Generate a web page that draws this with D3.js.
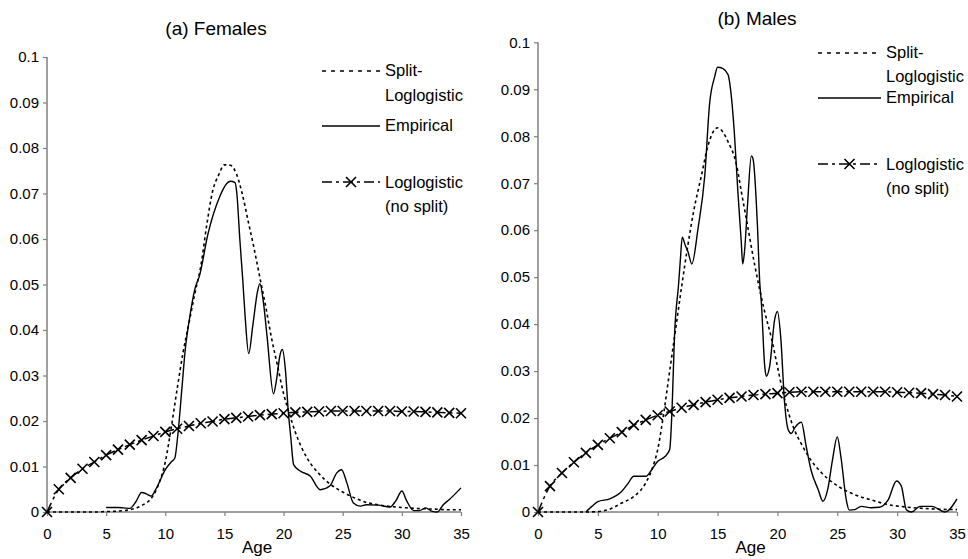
<!DOCTYPE html>
<html>
<head>
<meta charset="utf-8">
<script src="https://cdn.jsdelivr.net/npm/d3@7"></script>
<style>
  html, body { margin: 0; padding: 0; background: #fff; }
  svg { display: block; }
  text { font-family: "Liberation Sans", Arial, sans-serif; fill: #000; }
</style>
</head>
<body>
<svg id="chart" width="968" height="559"></svg>
<script>
// ---------- DATA ----------
const xTicks = [0, 5, 10, 15, 20, 25, 30, 35];
const yTicks = [0, 0.01, 0.02, 0.03, 0.04, 0.05, 0.06, 0.07, 0.08, 0.09, 0.1];
const yTickLabels = ["0", "0.01", "0.02", "0.03", "0.04", "0.05", "0.06", "0.07", "0.08", "0.09", "0.1"];
const legendLabels = [["Split-", "Loglogistic"], ["Empirical"], ["Loglogistic", "(no split)"]];
const panelTitles = ["(a) Females", "(b) Males"];
const xLabel = "Age";

// Females
const femaleSplit = [[0,0],[1,0],[2,0],[3,0],[4,0],[5,0.0001],[6,0.0002],[7,0.0005],[8,0.0014],[9,0.0037],[9.5,0.0065],[10,0.011],[10.5,0.0185],[11,0.027],[11.5,0.035],[12,0.0415],[12.5,0.048],[13,0.054],[13.5,0.063],[14,0.0705],[14.5,0.074],[15,0.0763],[15.5,0.0762],[16,0.0744],[16.5,0.070],[17,0.064],[17.5,0.058],[18,0.0515],[18.5,0.045],[19,0.038],[19.5,0.032],[20,0.026],[20.5,0.0215],[21,0.0175],[22,0.0118],[23,0.0084],[24,0.006],[25,0.0044],[26,0.0031],[27,0.0021],[28,0.0016],[29,0.0012],[30,0.001],[31,0.0008],[32,0.0007],[33,0.0006],[34,0.0005],[35,0.0005]];
const femaleEmpirical = [[5,0.001],[6,0.001],[6.5,0.0009],[7,0.0008],[7.5,0.0022],[8,0.0043],[8.4,0.004],[8.8,0.0035],[9.3,0.0055],[10,0.0093],[10.5,0.011],[10.8,0.0118],[11.1,0.018],[11.4,0.027],[11.7,0.036],[12,0.0417],[12.5,0.049],[12.9,0.052],[13.6,0.061],[14.6,0.0693],[15.2,0.0722],[15.5,0.0727],[15.9,0.0724],[16.05,0.070],[16.3,0.060],[16.55,0.051],[16.75,0.043],[17.05,0.0348],[17.4,0.041],[17.8,0.0485],[18.0,0.0502],[18.3,0.046],[18.6,0.0387],[19.15,0.026],[19.4,0.029],[19.7,0.0345],[19.9,0.0357],[20.15,0.0314],[20.4,0.022],[20.6,0.0167],[20.85,0.0104],[21.4,0.009],[22.25,0.0079],[23.1,0.0049],[23.9,0.0057],[24.5,0.0086],[24.9,0.0093],[25.35,0.0064],[25.9,0.002],[26.5,0.0013],[27,0.0016],[28,0.0015],[29,0.0011],[29.5,0.0025],[30,0.0046],[30.4,0.0025],[31,0.0003],[31.5,0.0003],[32,0.0009],[32.5,0.0002],[33,0],[33.5,0.0016],[34,0.0027],[35,0.0053]];
const femaleLoglogistic = [[0,0],[1,0.005],[2,0.0075],[3,0.0095],[4,0.011],[5,0.0125],[6,0.0137],[7,0.0148],[8,0.0158],[9,0.0167],[10,0.0176],[11,0.0183],[12,0.0189],[13,0.0195],[14,0.0199],[15,0.0204],[16,0.0207],[17,0.021],[18,0.0213],[19,0.0215],[20,0.0217],[21,0.0219],[22,0.022],[23,0.0221],[24,0.0222],[25,0.0222],[26,0.0222],[27,0.0222],[28,0.0222],[29,0.0222],[30,0.0221],[31,0.0221],[32,0.022],[33,0.0219],[34,0.0218],[35,0.0217]];

// Males
const maleSplit = [[0,0],[1,0],[2,0],[3,0],[4,0],[5,0.0001],[6,0.0006],[7,0.0019],[8,0.0033],[9,0.0062],[9.5,0.009],[10,0.0133],[10.5,0.021],[11,0.030],[11.5,0.039],[12,0.048],[12.5,0.0565],[13,0.064],[13.65,0.0716],[14.2,0.078],[15.0,0.0818],[15.9,0.0787],[16.6,0.0737],[17.0,0.068],[17.5,0.061],[18.1,0.0526],[18.9,0.043],[19.5,0.037],[20,0.031],[20.5,0.025],[21,0.0205],[21.5,0.017],[22,0.0145],[22.6,0.0118],[23.7,0.0083],[25.06,0.0055],[26.45,0.0037],[27.8,0.0026],[29.2,0.0016],[30.6,0.0011],[32,0.0008],[33.5,0.0006],[35,0.0005]];
const maleEmpirical = [[4,0],[4.5,0.0012],[5,0.0022],[6,0.0028],[7,0.0044],[7.5,0.006],[8,0.0076],[9,0.0076],[9.5,0.009],[10,0.0108],[10.6,0.0118],[11,0.0133],[11.2,0.022],[11.4,0.0374],[11.75,0.0487],[11.9,0.054],[12.05,0.0585],[12.3,0.0568],[12.53,0.0554],[12.85,0.0528],[13.37,0.0604],[13.93,0.0716],[14.34,0.0871],[14.76,0.0927],[15.0,0.0947],[15.46,0.0944],[15.88,0.0931],[16.15,0.0885],[16.4,0.0808],[16.7,0.068],[16.98,0.0575],[17.1,0.0528],[17.25,0.0554],[17.5,0.0653],[17.82,0.0758],[17.96,0.0752],[18.33,0.061],[18.52,0.049],[18.66,0.0445],[18.94,0.031],[19.07,0.0289],[19.35,0.031],[19.77,0.041],[20.0,0.0427],[20.27,0.0374],[20.6,0.0232],[20.9,0.0175],[21.16,0.0167],[21.44,0.0179],[22.0,0.0191],[22.4,0.014],[22.8,0.009],[23.4,0.0048],[23.8,0.0023],[24.2,0.0048],[24.6,0.0111],[25.0,0.016],[25.3,0.0118],[25.75,0.0026],[26.0,0.0004],[26.45,0.0005],[27.0,0.0012],[27.85,0.0009],[28.5,0.001],[29.25,0.0026],[29.95,0.0066],[30.35,0.0055],[30.77,0.0005],[31.2,0],[31.9,0.0012],[32.9,0.0012],[34.0,0],[35,0.0028]];
const maleLoglogistic = [[0,0],[1,0.0055],[2,0.0083],[3,0.0106],[4,0.0126],[5,0.0143],[6,0.0157],[7,0.017],[8,0.0185],[9,0.0196],[10,0.0206],[11,0.0214],[12,0.0222],[13,0.0228],[14,0.0234],[15,0.0239],[16,0.0243],[17,0.0246],[18,0.0249],[19,0.0251],[20,0.0253],[21,0.0255],[22,0.0256],[23,0.0256],[24,0.0256],[25,0.0256],[26,0.0256],[27,0.0256],[28,0.0256],[29,0.0256],[30,0.0255],[31,0.0254],[32,0.0253],[33,0.0251],[34,0.0249],[35,0.0246]];

// ---------- DRAW ----------
const svg = d3.select("#chart");

const panels = [
  { title: panelTitles[0], titleX: 216, titleY: 35, x0: 47, x1: 461, yTop: 57, yBot: 512,
    split: femaleSplit, emp: femaleEmpirical, logl: femaleLoglogistic,
    legX: 322, legW: 58, legYs: [71, 126, 182], legTextYs: [[76, 101], [131], [188, 212]] },
  { title: panelTitles[1], titleX: 757, titleY: 25, x0: 538, x1: 957, yTop: 42.3, yBot: 512,
    split: maleSplit, emp: maleEmpirical, logl: maleLoglogistic,
    legX: 818, legW: 63, legYs: [53, 98, 164], legTextYs: [[58, 82], [103], [170, 194]] }
];

const AXIS = "#808080";
const SPLIT_DASH = "3,3";
const SPLIT_LEG_DASH = "4,5";
const LOGL_DASH = "10,4,3,4";
const FONT = "Liberation Sans, Arial, sans-serif";

function drawX(g, cx, cy, r) {
  g.append("path")
    .attr("d", `M${cx - r},${cy - r}L${cx + r},${cy + r}M${cx - r},${cy + r}L${cx + r},${cy - r}`)
    .attr("stroke", "#000").attr("stroke-width", 1.6).attr("fill", "none");
}

panels.forEach(p => {
  const g = svg.append("g");
  const x = d3.scaleLinear().domain([0, 35]).range([p.x0, p.x1]);
  const y = d3.scaleLinear().domain([0, 0.1]).range([p.yBot, p.yTop]);

  // title
  g.append("text").attr("x", p.titleX).attr("y", p.titleY)
    .attr("text-anchor", "middle").attr("font-size", 19).text(p.title);

  // y axis
  const ya = d3.axisLeft(y).tickValues(yTicks).tickSize(4).tickPadding(4)
    .tickFormat((d, i) => yTickLabels[i]);
  const yg = g.append("g").attr("transform", `translate(${p.x0},0)`).call(ya);
  yg.select(".domain").attr("stroke", AXIS).attr("stroke-width", 1.5).attr("d", `M0,${p.yTop}V${p.yBot}`);
  yg.selectAll(".tick line").attr("stroke", AXIS).attr("stroke-width", 1.2);
  yg.selectAll(".tick text").attr("font-size", 15).attr("font-family", FONT).attr("fill", "#000");

  // x axis
  const xa = d3.axisBottom(x).tickValues(xTicks).tickSize(4).tickPadding(12);
  const xg = g.append("g").attr("transform", `translate(0,${p.yBot})`).call(xa);
  xg.select(".domain").attr("stroke", AXIS).attr("stroke-width", 1.5).attr("d", `M${p.x0},0H${p.x1}`);
  xg.selectAll(".tick line").attr("stroke", AXIS).attr("stroke-width", 1.2);
  xg.selectAll(".tick text").attr("font-size", 15).attr("font-family", FONT).attr("fill", "#000");

  g.append("text").attr("x", (p.x0 + p.x1) / 2 + 3).attr("y", 553)
    .attr("text-anchor", "middle").attr("font-size", 17).text(xLabel);

  const line = d3.line().x(d => x(d[0])).y(d => y(d[1])).curve(d3.curveMonotoneX);

  // loglogistic (no split)
  g.append("path").datum(p.logl).attr("d", line).attr("fill", "none")
    .attr("stroke", "#000").attr("stroke-width", 1.5).attr("stroke-dasharray", LOGL_DASH);
  p.logl.forEach(d => drawX(g, x(d[0]), y(d[1]), 5));

  // split loglogistic
  g.append("path").datum(p.split).attr("d", line).attr("fill", "none")
    .attr("stroke", "#000").attr("stroke-width", 1.6).attr("stroke-dasharray", SPLIT_DASH);

  // empirical
  g.append("path").datum(p.emp).attr("d", line).attr("fill", "none")
    .attr("stroke", "#000").attr("stroke-width", 1.4);

  // legend
  const styles = [
    { dash: SPLIT_LEG_DASH, w: 1.6, marker: false },
    { dash: null, w: 1.4, marker: false },
    { dash: LOGL_DASH, w: 1.5, marker: true }
  ];
  styles.forEach((s, i) => {
    const ly = p.legYs[i];
    const l = g.append("line").attr("x1", p.legX).attr("x2", p.legX + p.legW)
      .attr("y1", ly).attr("y2", ly).attr("stroke", "#000").attr("stroke-width", s.w);
    if (s.dash) l.attr("stroke-dasharray", s.dash);
    if (s.marker) drawX(g, p.legX + p.legW / 2, ly, 5);
    legendLabels[i].forEach((t, j) => {
      g.append("text").attr("x", p.legX + p.legW + 5).attr("y", p.legTextYs[i][j])
        .attr("font-size", 16.5).text(t);
    });
  });
});
</script>
</body>
</html>
